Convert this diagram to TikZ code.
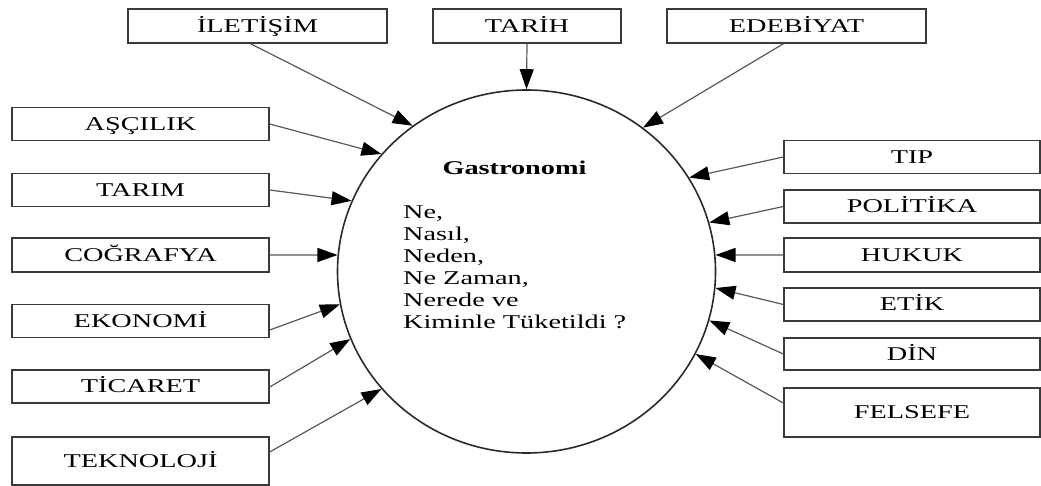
\documentclass[tikz,border=0pt]{standalone}
\usepackage{fontspec}
\setmainfont{Liberation Serif}[FakeStretch=1.45]
\usetikzlibrary{shapes.geometric, arrows.meta}
\usepackage{xcolor}
\definecolor{boxline}{HTML}{3A3A3A}
\definecolor{linkline}{HTML}{585858}
\definecolor{rimline}{HTML}{2A2A2A}

\begin{document}
\begin{tikzpicture}[x=1pt, y=-1pt,
    topic/.style={draw=boxline, line width=1.4pt, rectangle, inner sep=0pt,
                  minimum width=257pt, minimum height=33pt,
                  text height=12.9pt, text depth=0pt,
                  font=\fontsize{19.5}{22}\selectfont},
    link/.style={draw=linkline, line width=1.2pt,
                 -{Triangle[length=20pt, width=14pt, black]}}]
    \useasboundingbox (0,0) rectangle (1041,486);
    % centre
    \node[ellipse, draw=rimline, line width=1.6pt, inner sep=0pt,
          minimum width=378pt, minimum height=363pt] (gastro) at (526.5,271.5) {};
    \node[inner sep=0pt, text height=12.9pt, text depth=0pt,
          font=\fontsize{19.5}{22}\selectfont\bfseries] (baslik) at (514.5,168.5) {Gastronomi};
    \node[inner sep=0pt, anchor=north west, align=left,
          font=\fontsize{19.5}{22}\selectfont] (soru) at (403,206)
      {Ne,\\ Nasıl,\\ Neden,\\ Ne Zaman,\\ Nerede ve\\ Kiminle Tüketildi ?};
    % top row
    \node[topic, minimum width=259pt, minimum height=34pt] (iletisim) at (257.5,26) {İLETİŞİM};
    \node[topic, minimum width=188pt, minimum height=34pt] (tarih) at (527,26) {TARİH};
    \node[topic, minimum width=259pt, minimum height=34pt] (edebiyat) at (796.5,26) {EDEBİYAT};
    % left column
    \node[topic] (ascilik) at (140.5,124) {AŞÇILIK};
    \node[topic] (tarim) at (140.5,190) {TARIM};
    \node[topic, minimum height=34pt] (cografya) at (140.5,255) {COĞRAFYA};
    \node[topic] (ekonomi) at (140.5,321) {EKONOMİ};
    \node[topic] (ticaret) at (140.5,386.5) {TİCARET};
    \node[topic, minimum height=48pt] (teknoloji) at (140.5,461) {TEKNOLOJİ};
    % right column
    \node[topic, minimum width=256pt] (tip) at (912,157) {TIP};
    \node[topic, minimum width=256pt] (politika) at (912,206.5) {POLİTİKA};
    \node[topic, minimum width=256pt, minimum height=34pt] (hukuk) at (912,255) {HUKUK};
    \node[topic, minimum width=256pt] (etik) at (912,304.5) {ETİK};
    \node[topic, minimum width=256pt, minimum height=32pt] (din) at (912,354) {DİN};
    \node[topic, minimum width=256pt, minimum height=49pt] (felsefe) at (912,412.5) {FELSEFE};
    % arrows into the ellipse
    \draw[link] ([xshift=-7pt]iletisim.south) -- (gastro.128.5);
    \draw[link] (tarih.south) -- (gastro.90);
    \draw[link] ([xshift=-13pt]edebiyat.south) -- (gastro.51);
    \draw[link] (ascilik.east) -- (gastro.141);
    \draw[link] (tarim.east) -- (gastro.158.5);
    \draw[link] (cografya.east) -- (gastro.175);
    \draw[link] ([yshift=-9pt]ekonomi.east) -- (gastro.190.5);
    \draw[link] ([yshift=-0.5pt]ticaret.east) -- (gastro.201.5);
    \draw[link] ([yshift=9pt]teknoloji.east) -- (gastro.219.5);
    \draw[link] (tip.west) -- (gastro.30.5);
    \draw[link] (politika.west) -- (gastro.15);
    \draw[link] (hukuk.west) -- (gastro.5);
    \draw[link] (etik.west) -- (gastro.-5);
    \draw[link] (din.west) -- (gastro.-15);
    \draw[link] ([yshift=9.5pt]felsefe.west) -- (gastro.-26.5);
\end{tikzpicture}
\end{document}
